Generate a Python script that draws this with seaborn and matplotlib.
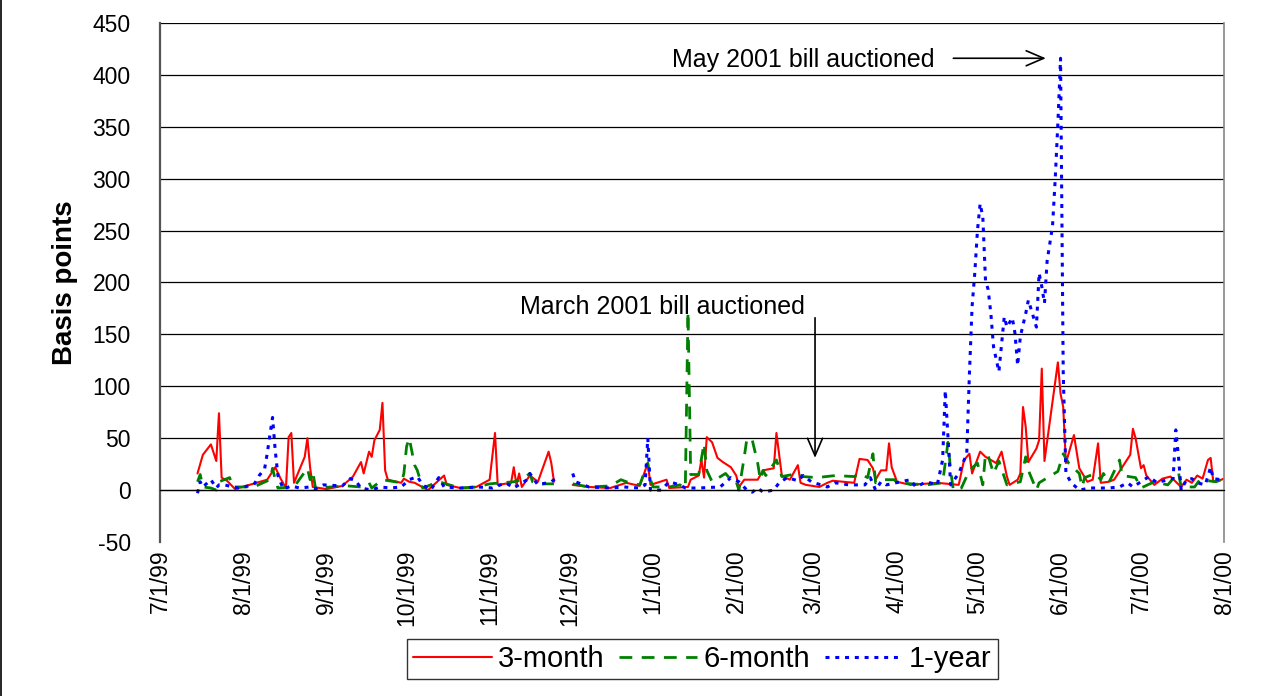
# spreads between bill yields, 3 maturities, daily jul-99 .. jul-00

import numpy as np
import pandas as pd
import matplotlib
matplotlib.use("Agg")
import matplotlib.pyplot as plt
from matplotlib.lines import Line2D
import seaborn as sns

nan = np.nan
START = pd.Timestamp("1999-07-01")

# days after 7/1/99 (nan = break in the line)
days_3m = [14, 16, 19, 21, 22, 23, 25, 28, 36, 40,
           43, 45, 47, 48, 49, 50, 54, 55, 56, 57,
           62, 68, 72, 75, 76, 78, 79, 80, 82, 83,
           84, 85, 90, 91, 93, 95, 100, 106, 107, 112,
           118, 123, 125, 126, 131, 132, 133, 134, 135, 138,
           141, 145, 146, 147, 150, 154, 160, 168, 174, 179,
           182, 183, 189, 190, 197, 198, 201, 202, 203, 204,
           206, 208, 210, 213, 215, 216, 218, 223, 225, 229,
           230, 232, 235, 238, 239, 241, 246, 249, 251, 259,
           261, 264, 266, 267, 269, 271, 272, 273, 275, 280,
           290, 298, 300, 302, 303, 306, 308, 310, 312, 314,
           316, 317, 320, 321, 322, 323, 324, 327, 328, 329,
           330, 335, 336, 337, 338, 341, 343, 346, 348, 350,
           351, 354, 356, 362, 363, 364, 366, 367, 368, 371,
           374, 377, 381, 383, 385, 387, 389, 391, 392, 393,
           396, 397]
bp_3m = [16, 34, 44, 28, 74, 12, 9, 1, 7, 10,
         22, 11, 2, 51, 55, 7, 32, 50, 22, 3,
         1, 4, 13, 27, 16, 37, 32, 48, 58, 84,
         19, 10, 7, 11, 8, 7, 0, 14, 5, 2,
         3, 10, 55, 5, 7, 22, 5, 16, 3, 14,
         8, 37, 26, 8, nan, 5, 3, 2, 7, 4,
         26, 5, 10, 2, 3, 10, 14, 29, 12, 51,
         46, 31, 27, 22, 14, 3, 10, 10, 19, 21,
         55, 14, 10, 24, 7, 5, 3, 7, 9, 7,
         30, 29, 21, 10, 19, 19, 45, 22, 8, 5,
         7, 5, 29, 35, 16, 37, 32, 29, 26, 37,
         13, 5, 10, 16, 80, 61, 27, 40, 48, 117,
         28, 123, 93, 80, 26, 53, 21, 8, 10, 45,
         7, 8, 10, 34, 59, 50, 21, 24, 14, 5,
         11, 13, 3, 10, 7, 14, 11, 29, 31, 8,
         10, 11]

days_6m = [14, 15, 16, 19, 21, 22, 24, 26, 27, 35,
           41, 42, 43, 44, 50, 55, 56, 57, 58, 70,
           75, 78, 79, 83, 90, 91, 92, 93, 94, 95,
           96, 98, 104, 112, 118, 123, 132, 135, 138, 139,
           141, 147, 150, 154, 160, 168, 172, 174, 179, 182,
           183, 184, 190, 194, 196, 197, 198, 201, 203, 204,
           206, 211, 213, 215, 216, 218, 219, 221, 223, 224,
           225, 226, 230, 232, 238, 240, 245, 252, 259, 261,
           264, 266, 267, 270, 274, 275, 286, 292, 294, 295,
           296, 299, 302, 305, 307, 308, 309, 311, 313, 316,
           321, 323, 324, 327, 328, 335, 337, 339, 343, 344,
           345, 349, 351, 352, 354, 358, 359, 364, 366, 371,
           376, 380, 381, 386, 388, 394, 397]
bp_6m = [8, 15, 3, 2, 0, 8, 10, 12, 3, 3,
         10, 21, 10, 2, 3, 21, 10, 18, 2, 4,
         3, 7, 2, 10, 7, 16, 42, 50, 37, 24,
         19, 2, 8, 2, 3, 6, 8, 10, 16, 8,
         6, 6, nan, 6, 3, 4, 10, 8, 5, 26,
         10, 3, 3, 5, 2, 172, 15, 15, 45, 19,
         8, 16, 10, 8, 0, 32, 50, 48, 26, 10,
         19, 14, 29, 13, 16, 13, 12, 14, 13, 16,
         12, 35, 7, 10, 10, 7, 5, 7, 46, 19,
         0, 2, 19, 26, 5, 35, 33, 16, 28, 5,
         8, 32, 19, 0, 7, 18, 35, 26, 16, 3,
         12, 16, 10, 16, 7, 29, 14, 12, 2, 8,
         5, 17, 3, 3, 10, 8, 11]

days_1y = [14, 15, 16, 19, 21, 22, 24, 29, 31, 35,
           37, 39, 40, 41, 42, 43, 44, 46, 49, 52,
           56, 58, 61, 68, 71, 73, 75, 79, 82, 86,
           90, 93, 96, 98, 101, 104, 106, 112, 119, 124,
           129, 132, 137, 138, 141, 146, 148, 150, 154, 155,
           160, 168, 173, 179, 181, 182, 183, 187, 190, 194,
           196, 201, 209, 213, 216, 219, 221, 223, 225, 229,
           231, 234, 238, 240, 243, 249, 252, 257, 263, 265,
           267, 269, 271, 280, 282, 286, 290, 292, 293, 294,
           295, 298, 301, 302, 303, 304, 305, 306, 307, 308,
           309, 310, 311, 313, 315, 316, 318, 319, 320, 321,
           323, 324, 327, 328, 329, 330, 331, 333, 334, 335,
           336, 337, 338, 340, 343, 347, 354, 358, 361, 363,
           369, 372, 377, 378, 379, 380, 381, 383, 385, 387,
           390, 392, 393, 396, 397]
bp_1y = [-3, 8, 3, 10, 2, 5, 5, 2, 3, 5,
         14, 20, 35, 53, 70, 38, 14, 1, 4, 2,
         3, 1, 5, 4, 11, 9, 2, 0, 3, 2,
         3, 10, 13, 5, 0, 12, 3, 2, 3, 2,
         7, 2, 10, 16, 5, 8, 12, nan, 16, 8,
         3, 2, 3, 2, 5, 50, 0, 0, 8, 5,
         2, 2, 3, 12, 8, 0, -2, 2, -2, 0,
         7, 12, 9, 14, 8, 3, 7, 5, 5, 12,
         0, 8, 5, 10, 3, 8, 5, 29, 96, 51,
         5, 16, 35, 112, 177, 209, 250, 276, 263, 202,
         193, 170, 138, 114, 167, 157, 166, 151, 120, 148,
         170, 183, 157, 209, 196, 180, 221, 254, 299, 353,
         416, 113, 16, 7, 0, 2, 2, 3, 7, 3,
         13, 7, 11, 11, 58, 32, 0, 10, 11, 7,
         5, 22, 11, 10, 11]

series_names = ["3-month", "6-month", "1-year"]
colors = {"3-month": "#FF0000", "6-month": "#008000", "1-year": "#0000FF"}
dashes = {"3-month": "", "6-month": (4.6, 3.4), "1-year": (1.3, 1.9)}
widths = {"3-month": 1.5, "6-month": 2.0, "1-year": 2.2}

frames = []
for name, d, v in zip(series_names, [days_3m, days_6m, days_1y], [bp_3m, bp_6m, bp_1y]):
    f = pd.DataFrame({"day": d, "bp": v})
    f["seg"] = f["bp"].isna().cumsum()
    f = f.dropna()
    f["date"] = START + pd.to_timedelta(f["day"], unit="D")
    f["series"] = name
    f["unit"] = name + "_" + f["seg"].astype(str)
    frames.append(f)
df = pd.concat(frames, ignore_index=True)

sns.set_style("white")
plt.rcParams["font.family"] = ["Liberation Sans", "DejaVu Sans"]
plt.rcParams["axes.unicode_minus"] = False
plt.rcParams["text.color"] = "black"
plt.rcParams["axes.labelcolor"] = "black"

fig = plt.figure(figsize=(12.84, 6.96), dpi=100)
ax = fig.add_axes([0.1246, 0.2213, 0.8287, 0.7457])

sns.lineplot(data=df, x="date", y="bp", hue="series", style="series", size="series",
             units="unit", estimator=None, palette=colors, dashes=dashes, sizes=widths,
             hue_order=series_names, style_order=series_names, size_order=series_names,
             sort=False, ax=ax)

ax.set_xlim(START, pd.Timestamp("2000-08-01"))
ax.set_ylim(-50, 450)
ax.set_yticks(np.arange(-50, 451, 50))
months = pd.date_range("1999-07-01", "2000-08-01", freq="MS")
ax.set_xticks(months)
ax.set_xticklabels([f"{m.month}/{m.day}/{m:%y}" for m in months])

ax.yaxis.grid(True, color="black", lw=0.9)
ax.get_ygridlines()[0].set_visible(False)   # no line at -50
ax.set_axisbelow(True)
ax.spines["top"].set_visible(False)
ax.spines["right"].set_color("#888888")
ax.spines["right"].set_linewidth(1.2)
ax.spines["left"].set_color("#555555")
ax.spines["left"].set_linewidth(1.6)
ax.spines["bottom"].set_position(("data", 0))
ax.spines["bottom"].set_color("black")
ax.spines["bottom"].set_linewidth(0.9)
ax.tick_params(axis="x", direction="out", length=6, color="#777777", labelcolor="black",
               labelsize=16.5, pad=37, labelrotation=90)
ax.tick_params(axis="y", direction="out", length=6, color="#555555", labelcolor="black",
               labelsize=16.5, pad=15)
ax.set_xlabel("")
ax.set_ylabel("Basis points", fontsize=20, fontweight="bold", va="center")
ax.yaxis.set_label_coords(-0.0893, 0.5)

# annotations
arrow = dict(arrowstyle="->,head_length=0.7,head_width=0.3", color="black",
             lw=1.2, shrinkA=0, shrinkB=0, mutation_scale=18)
ax.text(START + pd.Timedelta(days=289), 414, "May 2001 bill auctioned",
        ha="right", va="center", fontsize=18)
ax.annotate("", xy=(START + pd.Timedelta(days=330.5), 416),
            xytext=(START + pd.Timedelta(days=296), 416), arrowprops=arrow)
ax.text(START + pd.Timedelta(days=240.7), 176, "March 2001 bill auctioned",
        ha="right", va="center", fontsize=18)
ax.annotate("", xy=(START + pd.Timedelta(days=244.4), 31),
            xytext=(START + pd.Timedelta(days=244.4), 166), arrowprops=arrow)

handles, labels = ax.get_legend_handles_labels()
ax.get_legend().remove()
leg = fig.legend(handles, labels, loc="center", bbox_to_anchor=(0.547, 0.053), ncol=3,
                 fontsize=21, frameon=True, fancybox=False, edgecolor="black",
                 handlelength=2.7, handletextpad=0.2, columnspacing=0.5,
                 borderpad=0.2, borderaxespad=0)
leg.get_frame().set_linewidth(1.0)

# outer chart frame, left edge
fig.add_artist(Line2D([0.001, 0.001], [0, 1], transform=fig.transFigure, color="black", lw=1.2))

fig.savefig("out.png", dpi=100)
